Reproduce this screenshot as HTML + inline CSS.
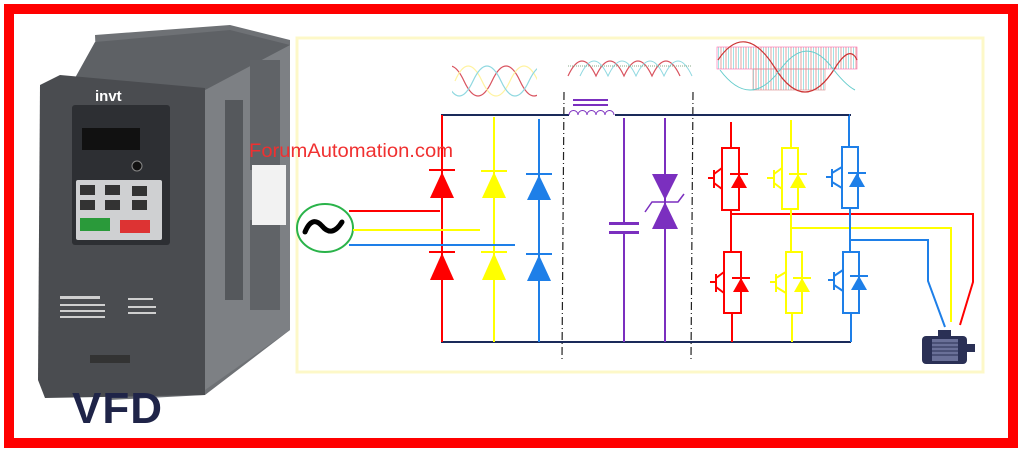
<!DOCTYPE html>
<html><head><meta charset="utf-8"><style>
html,body{margin:0;padding:0;background:#fff}
svg{display:block}
</style></head><body>
<svg width="1024" height="452" viewBox="0 0 1024 452" xmlns="http://www.w3.org/2000/svg" font-family="Liberation Sans, sans-serif">
<defs>
<pattern id="pw" width="5" height="10" patternUnits="userSpaceOnUse"><rect width="5" height="10" fill="none"/><line x1="1" y1="0" x2="1" y2="10" stroke="#d88" stroke-width="0.8"/><line x1="3.5" y1="0" x2="3.5" y2="10" stroke="#8dd" stroke-width="0.8"/></pattern>
<clipPath id="c1"><rect x="452" y="55" width="85" height="50"/></clipPath>
</defs>
<rect x="0" y="0" width="1024" height="452" fill="#fff"/>
<rect x="9" y="9" width="1004" height="434" fill="none" stroke="#f00" stroke-width="10"/>
<rect x="297" y="38" width="686" height="334" fill="none" stroke="#fdf8c8" stroke-width="3"/>

<polygon points="95,35 230,25 290,40 290,330 205,395 110,400" fill="#6e7175"/>
<polygon points="205,90 290,45 290,330 205,390" fill="#7d8084"/>
<polygon points="95,42 230,30 290,45 205,90 75,78" fill="#5e6165"/>
<polygon points="40,85 60,75 205,88 205,395 45,398 38,380" fill="#4a4c50"/>
<rect x="250" y="60" width="30" height="110" fill="#606367"/>
<rect x="250" y="220" width="30" height="90" fill="#606367"/>
<rect x="225" y="100" width="18" height="200" fill="#55585c"/>
<rect x="252" y="165" width="34" height="60" fill="#f2f2f2"/>
<rect x="72" y="105" width="98" height="140" fill="#2d2f33" rx="3"/>
<text x="95" y="101" font-size="15" font-weight="bold" fill="#fff">invt</text>
<rect x="82" y="128" width="58" height="22" fill="#111"/>
<circle cx="137" cy="166" r="5" fill="#111" stroke="#888"/>
<rect x="76" y="180" width="86" height="60" fill="#cfd0d2" rx="2"/>
<rect x="80" y="185" width="15" height="10" fill="#333"/><rect x="105" y="185" width="15" height="10" fill="#333"/><rect x="132" y="186" width="15" height="10" fill="#333"/>
<rect x="80" y="200" width="15" height="10" fill="#333"/><rect x="105" y="200" width="15" height="10" fill="#333"/><rect x="132" y="200" width="15" height="10" fill="#333"/>
<rect x="80" y="218" width="30" height="13" fill="#2a9a3a"/><rect x="120" y="220" width="30" height="13" fill="#d33"/>
<rect x="55" y="290" width="100" height="55" fill="#4a4c50"/>
<g fill="#cfcfcf"><rect x="60" y="296" width="40" height="3"/><rect x="60" y="304" width="45" height="2"/><rect x="60" y="310" width="45" height="2"/><rect x="60" y="316" width="45" height="2"/><rect x="128" y="298" width="25" height="2"/><rect x="128" y="306" width="28" height="2"/><rect x="128" y="312" width="28" height="2"/></g>
<rect x="90" y="355" width="40" height="8" fill="#333"/>
<text x="72" y="423" font-size="44" fill="#1f2448" font-weight="bold" letter-spacing="1">VFD</text>

<g clip-path="url(#c1)" fill="none" stroke-width="1.2">
<path d="M437,81 Q450,51 464,81 T492,81 T520,81 T548,81" stroke="#d9535f"/>
<path d="M455,81 Q468,51 482,81 T510,81 T538,81 T566,81" stroke="#fff3a0"/>
<path d="M446,81 Q459,111 473,81 T501,81 T529,81 T557,81" stroke="#8fd8e0"/>
</g>
<path d="M568,76 Q582,46 596,76 Q610,46 624,76 Q638,46 652,76 Q666,46 680,76" fill="none" stroke="#d9535f" stroke-width="1.2"/>
<path d="M580,76 Q594,46 608,76 Q622,46 636,76 Q650,46 664,76 Q678,46 692,76" fill="none" stroke="#8fd8e0" stroke-width="1"/>
<line x1="568" y1="66" x2="692" y2="66" stroke="#8a8" stroke-dasharray="1,1"/>
<rect x="717" y="47" width="140" height="22" fill="url(#pw)" stroke="#f6a" stroke-width="0.6"/>
<rect x="753" y="69" width="72" height="21" fill="url(#pw)" stroke="#d88" stroke-width="0.6"/>
<path d="M718,60 Q745,20 775,68 Q805,116 835,68 Q850,44 857,60" fill="none" stroke="#c33" stroke-width="1.2"/>
<path d="M720,70 Q750,110 780,70 Q805,35 830,65 Q845,85 855,90" fill="none" stroke="#6cc" stroke-width="1"/>

<g stroke="#222" stroke-width="1.2" stroke-dasharray="8,3,1,3">
<line x1="564" y1="92" x2="562" y2="360"/><line x1="693" y1="92" x2="691" y2="360"/>
</g>

<line x1="441" y1="115" x2="569" y2="115" stroke="#1a2a5a" stroke-width="2"/>
<line x1="615" y1="115" x2="851" y2="115" stroke="#1a2a5a" stroke-width="2"/>
<line x1="441" y1="342" x2="851" y2="342" stroke="#1a2a5a" stroke-width="2"/>
<rect x="573" y="99" width="35" height="2" fill="#7b2fbf"/><rect x="573" y="104" width="35" height="2" fill="#7b2fbf"/>
<path d="M569,115 a4,4 0 0 1 9,0 a4,4 0 0 1 9,0 a4,4 0 0 1 9,0 a4,4 0 0 1 9,0 a4,4 0 0 1 9,0" fill="none" stroke="#7b2fbf" stroke-width="1"/>

<g stroke-width="2">
<line x1="442" y1="115" x2="442" y2="342" stroke="#f00"/>
<line x1="494" y1="117" x2="494" y2="342" stroke="#ff0"/>
<line x1="539" y1="119" x2="539" y2="342" stroke="#1e7fe8"/>
</g>
<g>
<polygon points="442,172 430,198 454,198" fill="#f00"/><rect x="429" y="169" width="26" height="2" fill="#f00"/>
<polygon points="442,253 430,280 454,280" fill="#f00"/><rect x="429" y="251" width="26" height="2" fill="#f00"/>
<polygon points="494,172 482,198 506,198" fill="#ff0"/><rect x="481" y="170" width="26" height="2" fill="#ff0"/>
<polygon points="494,253 482,280 506,280" fill="#ff0"/><rect x="481" y="251" width="26" height="2" fill="#ff0"/>
<polygon points="539,175 527,200 551,200" fill="#1e7fe8"/><rect x="526" y="173" width="26" height="2" fill="#1e7fe8"/>
<polygon points="539,255 527,281 551,281" fill="#1e7fe8"/><rect x="526" y="253" width="26" height="2" fill="#1e7fe8"/>
</g>
<ellipse cx="325" cy="228" rx="28" ry="24" fill="#fff" stroke="#2ab34a" stroke-width="2"/>
<path d="M305,232 Q312,215 322,226 Q332,238 342,222" fill="none" stroke="#000" stroke-width="5" stroke-linecap="round"/>
<line x1="349" y1="211" x2="440" y2="211" stroke="#f00" stroke-width="2"/>
<line x1="353" y1="230" x2="480" y2="230" stroke="#ff0" stroke-width="2"/>
<line x1="349" y1="245" x2="515" y2="245" stroke="#1e7fe8" stroke-width="2"/>

<line x1="624" y1="118" x2="624" y2="342" stroke="#7b2fbf" stroke-width="2"/>
<rect x="609" y="222" width="30" height="3" fill="#7b2fbf"/><rect x="609" y="231" width="30" height="3" fill="#7b2fbf"/>
<rect x="622" y="225" width="4" height="6" fill="#fff"/>
<line x1="665" y1="118" x2="665" y2="342" stroke="#7b2fbf" stroke-width="2"/>
<polygon points="652,174 678,174 665,200" fill="#7b2fbf"/>
<polygon points="665,202 652,229 678,229" fill="#7b2fbf"/>
<polyline points="645,212 652,202 678,202 684,194" fill="none" stroke="#7b2fbf" stroke-width="1.5"/>

<g fill="none" stroke-width="2">
<g stroke="#f00">
<line x1="731" y1="122" x2="731" y2="148"/><rect x="722" y="148" width="17" height="62"/>
<line x1="731" y1="210" x2="731" y2="252"/><rect x="724" y="252" width="17" height="61"/><line x1="732" y1="313" x2="732" y2="342"/>
<line x1="708" y1="178" x2="714" y2="178"/><line x1="714" y1="170" x2="714" y2="188"/><line x1="714" y1="174" x2="722" y2="168"/><line x1="714" y1="183" x2="722" y2="189"/>
<line x1="710" y1="282" x2="716" y2="282"/><line x1="716" y1="274" x2="716" y2="292"/><line x1="716" y1="278" x2="724" y2="272"/><line x1="716" y1="287" x2="724" y2="293"/>
<polyline points="731,214 973,214 973,282 960,325"/>
</g>
<g stroke="#ff0">
<line x1="791" y1="120" x2="791" y2="148"/><rect x="782" y="148" width="16" height="61"/>
<line x1="791" y1="209" x2="791" y2="252"/><rect x="786" y="252" width="16" height="61"/><line x1="792" y1="313" x2="792" y2="342"/>
<line x1="767" y1="178" x2="774" y2="178"/><line x1="774" y1="170" x2="774" y2="188"/><line x1="774" y1="174" x2="782" y2="168"/><line x1="774" y1="183" x2="782" y2="189"/>
<line x1="770" y1="282" x2="776" y2="282"/><line x1="776" y1="274" x2="776" y2="292"/><line x1="776" y1="278" x2="786" y2="272"/><line x1="776" y1="287" x2="786" y2="293"/>
<polyline points="791,228 951,228 951,322"/>
</g>
<g stroke="#1e7fe8">
<polyline points="693,115 849,115 849,147"/><rect x="842" y="147" width="16" height="61"/>
<line x1="850" y1="208" x2="850" y2="252"/><rect x="843" y="252" width="16" height="61"/><line x1="851" y1="313" x2="851" y2="342"/>
<line x1="826" y1="177" x2="832" y2="177"/><line x1="832" y1="169" x2="832" y2="187"/><line x1="832" y1="173" x2="842" y2="167"/><line x1="832" y1="182" x2="842" y2="188"/>
<line x1="828" y1="280" x2="834" y2="280"/><line x1="834" y1="272" x2="834" y2="290"/><line x1="834" y1="276" x2="843" y2="270"/><line x1="834" y1="285" x2="843" y2="291"/>
<polyline points="850,240 928,240 928,281 945,327"/>
</g>
</g>
<line x1="693" y1="115" x2="849" y2="115" stroke="#1a2a5a" stroke-width="2"/>
<g>
<polygon points="739,174 731,188 747,188" fill="#f00"/><rect x="730" y="173" width="18" height="2" fill="#f00"/>
<polygon points="741,278 733,292 749,292" fill="#f00"/><rect x="732" y="277" width="18" height="2" fill="#f00"/>
<polygon points="798,174 790,188 806,188" fill="#ff0"/><rect x="789" y="173" width="18" height="2" fill="#ff0"/>
<polygon points="802,278 794,292 810,292" fill="#ff0"/><rect x="793" y="277" width="18" height="2" fill="#ff0"/>
<polygon points="857,173 849,187 865,187" fill="#1e7fe8"/><rect x="848" y="172" width="18" height="2" fill="#1e7fe8"/>
<polygon points="859,276 851,290 867,290" fill="#1e7fe8"/><rect x="850" y="275" width="18" height="2" fill="#1e7fe8"/>
</g>
<rect x="938" y="330" width="13" height="6" fill="#2a3055"/>
<rect x="922" y="336" width="45" height="28" rx="4" fill="#2a3055"/>
<rect x="932" y="339" width="26" height="22" fill="#6a7098"/>
<g stroke="#2a3055" stroke-width="1"><line x1="932" y1="343" x2="958" y2="343"/><line x1="932" y1="347" x2="958" y2="347"/><line x1="932" y1="351" x2="958" y2="351"/><line x1="932" y1="355" x2="958" y2="355"/></g>
<rect x="967" y="344" width="8" height="8" fill="#2a3055"/>

<text x="249" y="157" font-size="19" fill="#f03030" textLength="204" lengthAdjust="spacingAndGlyphs">ForumAutomation.com</text>
</svg>
</body></html>
